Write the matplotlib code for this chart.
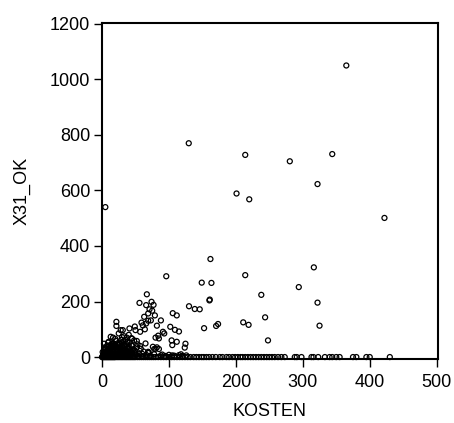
import matplotlib
matplotlib.use("Agg")
import matplotlib.pyplot as plt

plt.rcParams['font.family'] = ['Liberation Sans', 'DejaVu Sans']

# Scattered points (KOSTEN, X31_OK)
kosten_pos = [365, 129.6, 214, 280.6, 344, 322, 201, 220, 5, 422, 162, 96, 214, 149, 163.5,
              316.5, 294, 322, 325, 238, 243.7, 248, 211, 219, 160.5, 161, 130, 138.6, 146,
              152.5, 170.5, 173.4, 105.7, 111.7, 88, 102, 109, 115, 104, 111.7, 105, 124.7,
              123.6, 67, 56, 74, 66, 77, 71, 69, 75, 63, 79, 73, 66, 82, 61, 49, 21.5, 21.5,
              31, 41, 50, 57, 84, 91, 93, 80, 85, 65, 76, 80, 82, 69, 13, 16.5, 28, 78, 85,
              69, 64, 59, 69]
x31_pos = [1050, 770, 728, 705, 731, 623, 589, 568, 540, 501, 353, 291, 295, 268, 267,
           323, 252, 196, 113, 224, 143, 60, 125, 116, 204, 207, 183, 173, 172,
           104, 112, 119, 158, 150, 132, 109, 98, 92, 60, 55, 43, 48,
           34, 226, 195, 199, 187, 188, 172, 157, 167, 145, 150, 132, 121, 113, 114, 110, 127, 112,
           97, 103, 97, 91, 77, 91, 85, 70, 67, 49, 37, 30, 35, 19, 73, 70, 97, 29, 29,
           15, 100, 124, 131]

# Dense cluster near the origin
kosten_low = [2, 4, 6, 8, 10, 12, 14, 16, 18, 20, 22, 24, 26, 28, 30, 32, 34, 36, 38, 40,
              42, 44, 46, 48, 50, 52, 3, 7, 11, 15, 19, 23, 27, 31, 35, 39, 43, 47, 51, 55,
              5, 9, 13, 17, 21, 25, 29, 33, 37, 41, 45, 49, 53, 58, 62, 1, 6, 12, 18, 24,
              30, 36, 42, 48, 54, 60, 10, 20, 30, 40, 25, 35, 45, 15, 33, 38, 44, 27, 52, 57,
              66, 72, 78, 88, 95, 100, 108, 115, 120, 126, 60, 70, 90, 105, 118,
              1, 3, 5, 7, 9, 11, 13, 15, 17, 19, 21, 23, 25, 27, 29, 31, 33, 35, 37, 39,
              2, 4, 6, 8, 10, 12, 14, 16, 18, 20, 22, 24, 26, 28, 30, 32, 34, 36, 38, 40,
              4, 8, 12, 16, 20, 24, 28, 32, 36, 40, 44, 48, 3, 9, 14, 19, 26, 33, 41, 47]
x31_low = [8, 15, 22, 12, 30, 18, 40, 25, 10, 35, 20, 45, 14, 28, 50, 22, 38, 16, 55, 30,
           12, 42, 26, 60, 18, 35, 4, 6, 5, 9, 7, 11, 5, 8, 6, 10, 7, 5, 9, 12,
           28, 20, 36, 48, 58, 33, 62, 44, 70, 52, 66, 24, 46, 30, 20, 3, 2, 3, 2, 3,
           2, 3, 2, 3, 2, 4, 55, 65, 72, 80, 85, 62, 40, 42, 75, 55, 68, 48, 58, 40,
           8, 5, 10, 6, 4, 8, 5, 7, 4, 6, 12, 15, 9, 6, 10,
           18, 25, 32, 14, 22, 40, 27, 34, 19, 44, 13, 29, 38, 21, 16, 31, 25, 18, 36, 24,
           10, 6, 14, 20, 8, 26, 12, 17, 30, 9, 23, 15, 11, 19, 7, 14, 10, 22, 13, 16,
           35, 42, 28, 50, 38, 45, 33, 26, 48, 30, 20, 16, 48, 52, 46, 40, 52, 44, 35, 28]

# Points lying on zero
kosten_zero = [0, 1, 2, 3, 4, 5, 6, 7, 8, 9, 10, 11, 12, 13, 14, 15, 16, 17, 18, 19, 20, 22,
               24, 26, 28, 30, 32, 34, 36, 38, 40, 42, 44, 46, 48, 50, 53, 56, 59, 62, 65, 68,
               71, 74, 77, 80, 84, 88, 92, 96, 100, 104, 108, 112, 116, 120, 124, 128, 132, 137,
               141, 145, 149, 152, 156, 160, 165, 170, 176, 180, 186, 190, 195, 199, 203, 207,
               210, 214, 218, 222, 226, 230, 234, 238, 242, 246, 250, 254, 258, 263, 268, 273,
               288, 291, 298, 313, 316, 323, 333, 340, 344, 350, 355, 375, 380, 395, 400, 430]

xticks = [0, 100, 200, 300, 400, 500]
yticks = [0, 200, 400, 600, 800, 1000, 1200]

W, H = 454, 423
fig = plt.figure(figsize=(W / 100, H / 100), dpi=100)
ax = fig.add_axes([102 / W, 1 - 359 / H, 336 / W, 336 / H])

xs = kosten_pos + kosten_low + kosten_zero
ys = x31_pos + x31_low + [0] * len(kosten_zero)
ax.scatter(xs, ys, s=13, facecolors='none', edgecolors='black', linewidths=0.9,
           clip_on=False, zorder=3)

ax.set_xlim(0, 502)
ax.set_ylim(-7, 1203)
ax.set_xticks(xticks)
ax.set_yticks(yticks)
ax.set_xticklabels([str(t) for t in xticks])
ax.set_yticklabels([str(t) for t in yticks])

for sp in ax.spines.values():
    sp.set_linewidth(1.5)
    sp.set_color('black')

ax.tick_params(direction='out', length=5.5, width=1, colors='black',
               labelsize=13, pad=3)
ax.tick_params(axis='x', pad=5)

ax.set_xlabel('KOSTEN', fontsize=13)
ax.set_ylabel('X31_OK', fontsize=13)
ax.xaxis.set_label_coords(0.5, -0.132)
ax.yaxis.set_label_coords(-0.214, 0.5)

fig.savefig('out.png', dpi=100)
